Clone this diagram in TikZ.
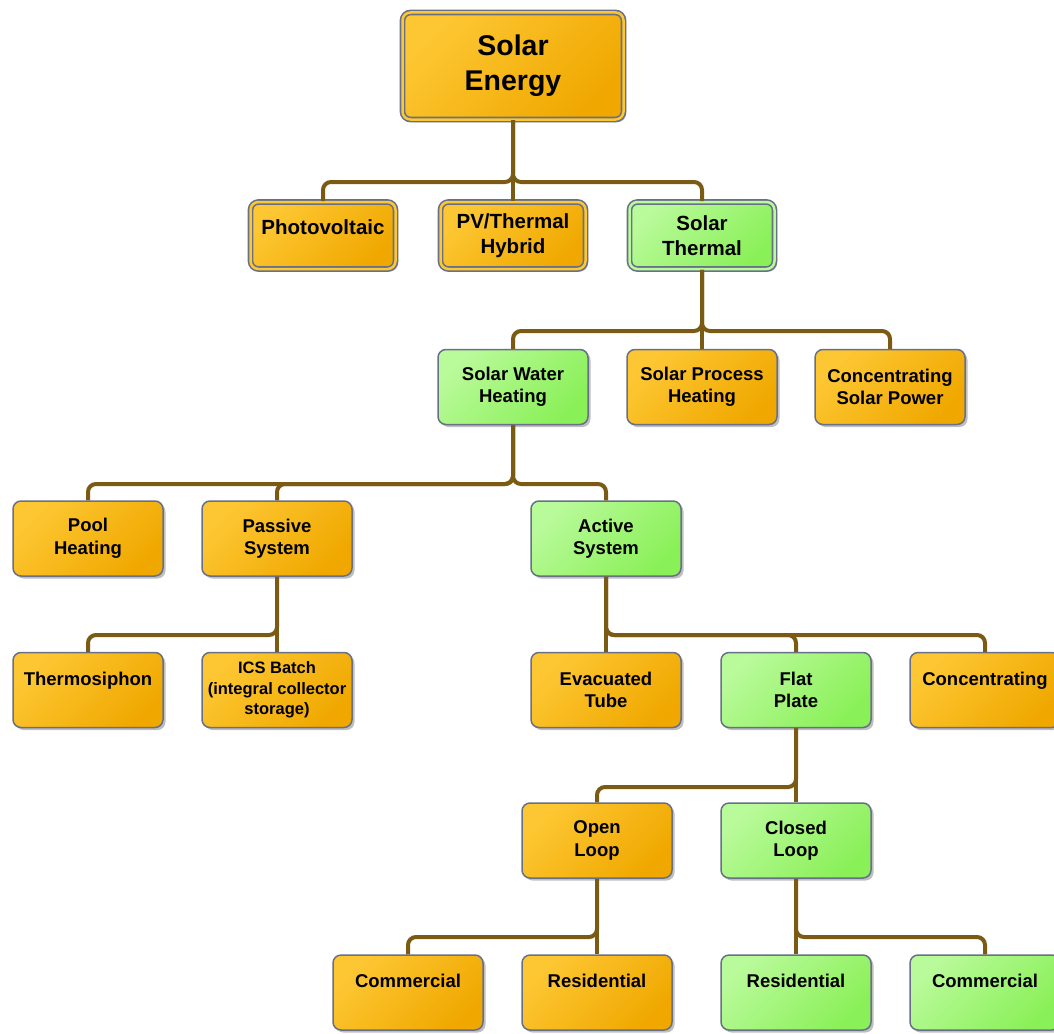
\documentclass[tikz,border=0pt]{standalone}
\usepackage{fontspec}
\setmainfont{Liberation Sans}
\usetikzlibrary{shadows}
\definecolor{orangeL}{HTML}{FDC733}
\definecolor{orangeD}{HTML}{F0A800}
\definecolor{greenL}{HTML}{B9FA9A}
\definecolor{greenD}{HTML}{8AF058}
\definecolor{edgegray}{HTML}{687088}
\definecolor{wirebrown}{HTML}{7B5A14}
\begin{document}
\begin{tikzpicture}[x=1pt,y=-1pt,
    box/.style={draw=edgegray,line width=1.5pt,rounded corners=8pt,
      minimum width=150pt,minimum height=75pt,inner sep=0pt,align=center,
      font=\bfseries\fontsize{18.5}{22.5}\selectfont,
      drop shadow={shadow xshift=2.5pt,shadow yshift=-2.5pt,fill=black,opacity=0.25}},
    warm/.style={box,top color=orangeL,bottom color=orangeD,shading angle=45},
    cool/.style={box,top color=greenL,bottom color=greenD,shading angle=45},
    ring/.style={line width=1.6pt,double=#1,double distance=2.5pt,
      minimum width=145pt,minimum height=67pt,
      font=\bfseries\fontsize{20.5}{25}\selectfont},
    single/.style={text height=13.5pt,text depth=23.5pt},
    wire/.style={draw=wirebrown,line width=4pt,rounded corners=8pt}]
    \useasboundingbox (0,0) rectangle (1054,1033);
    %% Bus levels
    \coordinate (bus1) at (0,182);
    \coordinate (bus2) at (0,331);
    \coordinate (bus3) at (0,484);
    \coordinate (bus4) at (0,635);
    \coordinate (bus5) at (0,787);
    \coordinate (bus6) at (0,937);
    %% Top
    \node[warm,ring=orangeL,minimum width=221pt,minimum height=107pt,
      font=\bfseries\fontsize{28.5}{35}\selectfont] (energy) at (513,66) {Solar\\Energy};
    %% Level 2
    \node[warm,ring=orangeL,text height=15pt,text depth=17pt] (photo) at (323,235.5) {Photovoltaic};
    \node[warm,ring=orangeL] (hybrid) at (513,235.5) {PV/Thermal\\Hybrid};
    \node[cool,ring=greenL] (thermal) at (702,235.5) {Solar\\Thermal};
    %% Level 3
    \node[cool] (water) at (513,387) {Solar Water\\Heating};
    \node[warm] (process) at (702,387) {Solar Process\\Heating};
    \node[warm] (csp) at (890,387) {Concentrating\\Solar Power};
    %% Level 4
    \node[warm] (pool) at (88,538.5) {Pool\\Heating};
    \node[warm] (passive) at (277,538.5) {Passive\\System};
    \node[cool] (active) at (606,538.5) {Active\\System};
    %% Level 5
    \node[warm,single] (thermo) at (88,690) {Thermosiphon};
    \node[warm,font=\bfseries\fontsize{16.5}{20.5}\selectfont] (ics) at (277,690)
      {ICS Batch\\(integral collector\\storage)};
    \node[warm] (evac) at (606,690) {Evacuated\\Tube};
    \node[cool] (flat) at (796,690) {Flat\\Plate};
    \node[warm,single] (conc) at (985,690) {Concentrating};
    %% Level 6
    \node[warm] (open) at (597,840.5) {Open\\Loop};
    \node[cool] (closed) at (796,840.5) {Closed\\Loop};
    %% Level 7
    \node[warm,single] (comopen) at (408,992.5) {Commercial};
    \node[warm,single] (resopen) at (597,992.5) {Residential};
    \node[cool,single] (resclosed) at (796,992.5) {Residential};
    \node[cool,single] (comclosed) at (985,992.5) {Commercial};
    %% Connectors
    \draw[wire] (energy) -- (hybrid);
    \foreach \c in {photo,thermal}
      \draw[wire] (energy.south) |- (\c.north |- bus1) -- (\c.north);
    \draw[wire] (thermal) -- (process);
    \foreach \c in {water,csp}
      \draw[wire] (thermal.south) |- (\c.north |- bus2) -- (\c.north);
    \foreach \c in {pool,passive,active}
      \draw[wire] (water.south) |- (\c.north |- bus3) -- (\c.north);
    \draw[wire] (passive) -- (ics);
    \draw[wire] (passive.south) |- (thermo.north |- bus4) -- (thermo.north);
    \draw[wire] (active) -- (evac);
    \foreach \c in {flat,conc}
      \draw[wire] (active.south) |- (\c.north |- bus4) -- (\c.north);
    \draw[wire] (flat) -- (closed);
    \draw[wire] (flat.south) |- (open.north |- bus5) -- (open.north);
    \draw[wire] (open) -- (resopen);
    \draw[wire] (open.south) |- (comopen.north |- bus6) -- (comopen.north);
    \draw[wire] (closed) -- (resclosed);
    \draw[wire] (closed.south) |- (comclosed.north |- bus6) -- (comclosed.north);
\end{tikzpicture}
\end{document}
